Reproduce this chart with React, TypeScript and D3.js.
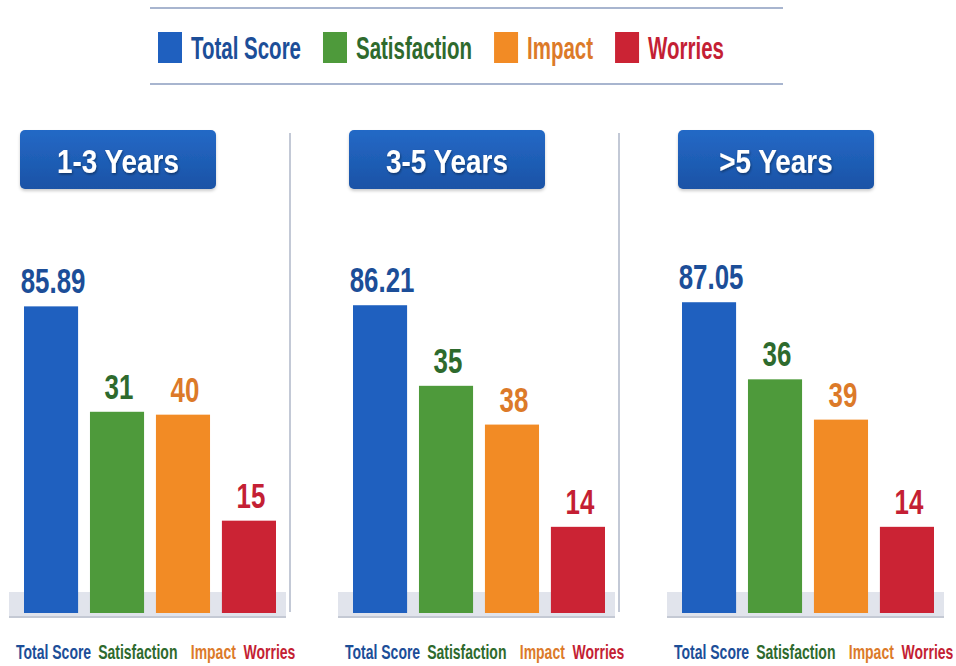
import { useEffect, useRef } from 'react';
import * as d3 from 'd3';

const metrics = ['Total Score', 'Satisfaction', 'Impact', 'Worries'];
const groups = ['1-3 Years', '3-5 Years', '>5 Years'];
const totalScore = [85.89, 86.21, 87.05];
const satisfaction = [31, 35, 36];
const impact = [40, 38, 39];
const worries = [15, 14, 14];
// each subscale is drawn against its own maximum
const scaleMax = [100, 55, 72, 58];

const BAR_FILL = ['#1f60bf', '#4e9a3b', '#f28b25', '#cb2334'];
const TEXT_FILL = ['#1c4e98', '#2e6a2d', '#dc7a29', '#c41f34'];
const FONT = '"Liberation Sans", Arial, sans-serif';

const W = 956;
const H = 666;
const BASE_Y = 613;
const FULL_H = 357;

// horizontal squeeze to get the condensed look of the original typeface
const SQ_HEAD = 0.82;
const SQ_LEGEND = 0.64;
const SQ_VALUE = 0.74;
const SQ_LABEL = 0.7;

export default function App() {
  const svgRef = useRef<SVGSVGElement>(null);

  useEffect(() => {
    document.body.style.margin = '0';
    const svgEl = svgRef.current;
    if (!svgEl) return;
    const svg = d3.select(svgEl);
    svg.selectAll('*').remove();

    const defs = svg.append('defs');
    const hg = defs.append('linearGradient').attr('id', 'hdr')
      .attr('x1', 0).attr('y1', 0).attr('x2', 0).attr('y2', 1);
    hg.append('stop').attr('offset', '0%').attr('stop-color', '#2469c6');
    hg.append('stop').attr('offset', '100%').attr('stop-color', '#1a53a6');
    const ts = defs.append('filter').attr('id', 'ts')
      .attr('x', '-10%').attr('y', '-20%').attr('width', '130%').attr('height', '150%');
    ts.append('feDropShadow').attr('dx', 1).attr('dy', 1.5).attr('stdDeviation', 1)
      .attr('flood-color', '#000').attr('flood-opacity', 0.4);
    const bs = defs.append('filter').attr('id', 'bs')
      .attr('x', '-10%').attr('y', '-10%').attr('width', '120%').attr('height', '130%');
    bs.append('feDropShadow').attr('dx', 0).attr('dy', 2).attr('stdDeviation', 1.5)
      .attr('flood-color', '#000').attr('flood-opacity', 0.2);

    // legend rules
    [8, 84].forEach((y) => {
      svg.append('line').attr('x1', 150).attr('x2', 783).attr('y1', y).attr('y2', y)
        .attr('stroke', '#a8b5cf').attr('stroke-width', 2);
    });

    // legend, laid out by measured text width
    let lx = 158;
    metrics.forEach((m, i) => {
      svg.append('rect').attr('x', lx).attr('y', 32).attr('width', 24).attr('height', 31)
        .attr('fill', BAR_FILL[i]);
      const t = svg.append('text')
        .attr('transform', `translate(${lx + 33},59) scale(${SQ_LEGEND},1)`)
        .attr('font-family', FONT).attr('font-weight', 'bold').attr('font-size', 32)
        .attr('fill', TEXT_FILL[i]).text(m);
      const w = (t.node() as SVGTextElement).getComputedTextLength() * SQ_LEGEND;
      lx += 33 + w + 22;
    });

    const series = [totalScore, satisfaction, impact, worries];
    const panelX = d3.scaleBand().domain(groups).range([0, 329 * groups.length]);
    const barX = d3.scaleBand().domain(metrics).range([24, 276]).paddingInner(0.18);
    const yScales = scaleMax.map((mx) =>
      d3.scaleLinear().domain([0, mx]).range([BASE_Y, BASE_Y - FULL_H]));

    groups.forEach((grp, gi) => {
      const x0 = panelX(grp) ?? 0;
      const g = svg.append('g').attr('transform', `translate(${x0},0)`);

      // header
      g.append('rect').attr('x', 20).attr('y', 130).attr('width', 196).attr('height', 59)
        .attr('rx', 5).attr('fill', 'url(#hdr)').attr('filter', 'url(#bs)');
      g.append('text')
        .attr('transform', `translate(118,173) scale(${SQ_HEAD},1)`)
        .attr('text-anchor', 'middle')
        .attr('font-family', FONT).attr('font-weight', 'bold').attr('font-size', 34)
        .attr('fill', '#fff').attr('filter', 'url(#ts)').text(grp);

      if (gi < groups.length - 1) {
        g.append('line').attr('x1', 290).attr('x2', 290).attr('y1', 133).attr('y2', 612)
          .attr('stroke', '#c3c9d6').attr('stroke-width', 2);
      }

      // base shelf
      g.append('rect').attr('x', 9).attr('y', 592).attr('width', 277).attr('height', 25)
        .attr('fill', '#e1e4ec');
      g.append('line').attr('x1', 9).attr('x2', 286).attr('y1', 617).attr('y2', 617)
        .attr('stroke', '#c4c9d4').attr('stroke-width', 2);

      metrics.forEach((m, mi) => {
        const v = series[mi][gi];
        const y = yScales[mi];
        const bx = barX(m) ?? 0;
        const bw = barX.bandwidth();
        g.append('rect').attr('x', bx).attr('y', y(v)).attr('width', bw)
          .attr('height', BASE_Y - y(v)).attr('fill', BAR_FILL[mi]);
        g.append('text')
          .attr('transform', `translate(${bx + bw / 2 + 2},${y(v) - 13}) scale(${SQ_VALUE},1)`)
          .attr('text-anchor', 'middle')
          .attr('font-family', FONT).attr('font-weight', 'bold').attr('font-size', 35)
          .attr('fill', TEXT_FILL[mi])
          .text(mi === 0 ? v.toFixed(2) : String(v));
      });

      // category labels under the shelf
      const lt = g.append('text')
        .attr('transform', `translate(16,659) scale(${SQ_LABEL},1)`)
        .attr('font-family', FONT).attr('font-weight', 'bold').attr('font-size', 20);
      const gaps = [0, 10, 19, 11];
      metrics.forEach((m, mi) => {
        lt.append('tspan').attr('dx', gaps[mi]).attr('fill', TEXT_FILL[mi]).text(m);
      });
    });
  }, []);

  return (
    <svg
      ref={svgRef}
      width={W}
      height={H}
      viewBox={`0 0 ${W} ${H}`}
      style={{ display: 'block', background: '#fff' }}
    />
  );
}
